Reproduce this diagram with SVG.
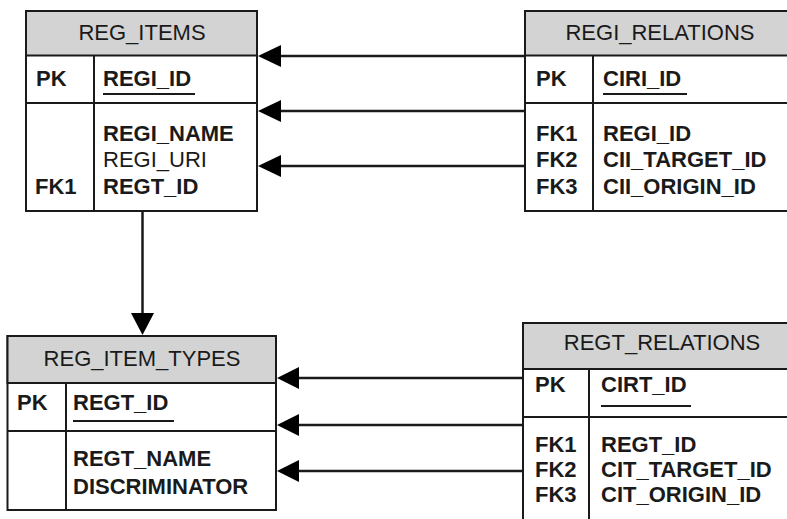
<svg xmlns="http://www.w3.org/2000/svg" width="787" height="519" viewBox="0 0 787 519">
<defs>
<style>
.box{fill:#fff;stroke:#1a1a1a;stroke-width:2}
.hdr{fill:#d3d3d3;stroke:#1a1a1a;stroke-width:2}
.ln{stroke:#1a1a1a;stroke-width:2;fill:none}
.conn{stroke:#1a1a1a;stroke-width:2.5;fill:none}
.ah{fill:#000}
text{font-family:"Liberation Sans",Arial,sans-serif;font-size:22px;fill:#1a1a1a}
.t{text-anchor:middle}
.b{font-weight:bold}
</style>
</defs>
<rect width="787" height="519" fill="#fff"/>
<g id="connectors">
<line class="conn" x1="525" y1="56" x2="278" y2="56"/>
<polygon class="ah" points="258,56 281,45 281,67"/>
<line class="conn" x1="525" y1="111" x2="278" y2="111"/>
<polygon class="ah" points="258,111 281,100 281,122"/>
<line class="conn" x1="525" y1="166" x2="278" y2="166"/>
<polygon class="ah" points="258,166 281,155 281,177"/>
<line class="conn" x1="142.5" y1="211" x2="142.5" y2="316"/>
<polygon class="ah" points="142.5,335 131,313 154,313"/>
<line class="conn" x1="523" y1="378" x2="296" y2="378"/>
<polygon class="ah" points="277,378 299,367 299,389"/>
<line class="conn" x1="523" y1="425" x2="296" y2="425"/>
<polygon class="ah" points="277,425 299,414 299,436"/>
<line class="conn" x1="523" y1="471" x2="296" y2="471"/>
<polygon class="ah" points="277,471 299,460 299,482"/>
</g>
<g id="reg_items">
<rect class="box" x="26" y="11" width="231" height="200"/>
<rect class="hdr" x="26" y="11" width="231" height="44.5"/>
<line class="ln" x1="26" y1="103" x2="257" y2="103"/>
<line class="ln" x1="94" y1="55.5" x2="94" y2="211"/>
<text class="t" x="142" y="39.5">REG_ITEMS</text>
<text class="b" x="36" y="86">PK</text>
<text class="b" x="103" y="86">REGI_ID</text>
<line class="ln" x1="103" y1="94" x2="195" y2="94"/>
<text class="b" x="103" y="140.5">REGI_NAME</text>
<text x="103" y="167">REGI_URI</text>
<text class="b" x="103" y="193.5">REGT_ID</text>
<text class="b" x="35" y="193.5">FK1</text>
</g>
<g id="regi_relations">
<rect class="box" x="525" y="11" width="270" height="200"/>
<rect class="hdr" x="525" y="11" width="270" height="44.5"/>
<line class="ln" x1="525" y1="103" x2="795" y2="103"/>
<line class="ln" x1="593" y1="55.5" x2="593" y2="211"/>
<text class="t" x="660" y="39.5">REGI_RELATIONS</text>
<text class="b" x="536" y="86">PK</text>
<text class="b" x="603" y="86">CIRI_ID</text>
<line class="ln" x1="603" y1="94" x2="687" y2="94"/>
<text class="b" x="536" y="140.5">FK1</text>
<text class="b" x="536" y="167">FK2</text>
<text class="b" x="536" y="193.5">FK3</text>
<text class="b" x="603" y="140.5">REGI_ID</text>
<text class="b" x="603" y="167">CII_TARGET_ID</text>
<text class="b" x="603" y="193.5">CII_ORIGIN_ID</text>
</g>
<g id="reg_item_types">
<rect class="box" x="7.5" y="336" width="268.5" height="174"/>
<rect class="hdr" x="7.5" y="336" width="268.5" height="47"/>
<line class="ln" x1="7.5" y1="431" x2="276" y2="431"/>
<line class="ln" x1="66" y1="383" x2="66" y2="510"/>
<text class="t" x="142" y="365.5">REG_ITEM_TYPES</text>
<text class="b" x="17" y="410">PK</text>
<text class="b" x="73" y="410">REGT_ID</text>
<line class="ln" x1="73" y1="421" x2="174" y2="421"/>
<text class="b" x="73" y="466">REGT_NAME</text>
<text class="b" x="73" y="493.5">DISCRIMINATOR</text>
</g>
<g id="regt_relations">
<rect class="box" x="523" y="323" width="272" height="210"/>
<rect class="hdr" x="523" y="323" width="272" height="46"/>
<line class="ln" x1="523" y1="417" x2="795" y2="417"/>
<line class="ln" x1="589" y1="369" x2="589" y2="533"/>
<text class="t" x="662" y="350">REGT_RELATIONS</text>
<text class="b" x="535" y="392">PK</text>
<text class="b" x="601" y="392">CIRT_ID</text>
<line class="ln" x1="601" y1="406" x2="691" y2="406"/>
<text class="b" x="535" y="452">FK1</text>
<text class="b" x="535" y="477">FK2</text>
<text class="b" x="535" y="502">FK3</text>
<text class="b" x="601" y="452">REGT_ID</text>
<text class="b" x="601" y="477">CIT_TARGET_ID</text>
<text class="b" x="601" y="502">CIT_ORIGIN_ID</text>
</g>
</svg>
